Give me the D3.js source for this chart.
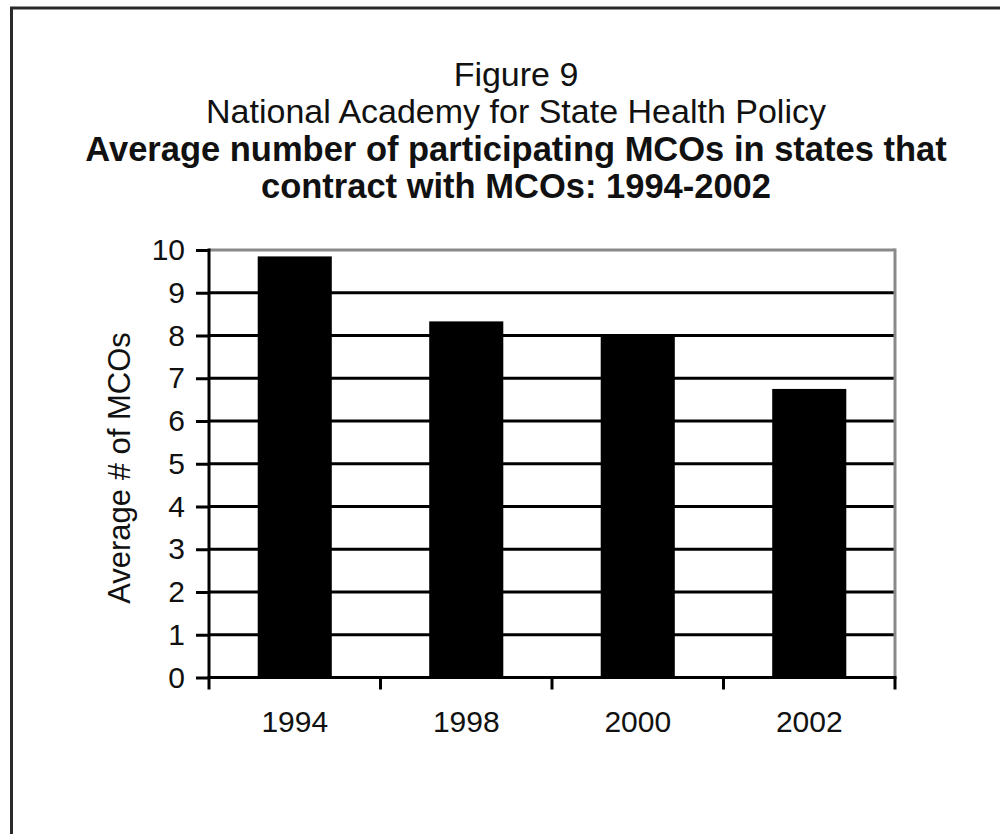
<!DOCTYPE html>
<html>
<head>
<meta charset="utf-8">
<script src="https://cdn.jsdelivr.net/npm/d3@7"></script>
<style>
  body { margin: 0; background: #fff; }
  svg { display: block; font-family: "Liberation Sans", Arial, sans-serif; }
</style>
</head>
<body>
<div id="chart"></div>
<script>
// chart data
const years = ["1994", "1998", "2000", "2002"];
const avgMCOs = [9.85, 8.33, 8.0, 6.75];
const yTicks = [0, 1, 2, 3, 4, 5, 6, 7, 8, 9, 10];
const titleLines = ["Figure 9", "National Academy for State Health Policy"];
const boldTitleLines = ["Average number of participating MCOs in states that", "contract with MCOs: 1994-2002"];
const yLabel = "Average # of MCOs";

const width = 1000, height = 834;
const plot = { left: 209, right: 895, top: 250, bottom: 677.5 };

const svg = d3.select("#chart").append("svg")
    .attr("width", width)
    .attr("height", height);

// outer frame (runs off the right and bottom edges)
svg.append("rect")
    .attr("x", 11.5).attr("y", 8)
    .attr("width", 1010).attr("height", 850)
    .attr("fill", "none")
    .attr("stroke", "#2a2a2a")
    .attr("stroke-width", 3);

// titles
const cx = 516;
svg.selectAll(".title")
    .data(titleLines)
    .join("text")
    .attr("class", "title")
    .attr("x", cx)
    .attr("y", (d, i) => 86 + i * 37)
    .attr("text-anchor", "middle")
    .style("font-size", "34px")
    .style("fill", "#111")
    .text(d => d);

svg.selectAll(".btitle")
    .data(boldTitleLines)
    .join("text")
    .attr("class", "btitle")
    .attr("x", cx)
    .attr("y", (d, i) => 161 + i * 37)
    .attr("text-anchor", "middle")
    .style("font-size", "34.5px")
    .style("font-weight", "bold")
    .style("fill", "#111")
    .text(d => d);

// scales
const x = d3.scaleBand()
    .domain(years)
    .range([plot.left, plot.right])
    .paddingInner(0.568)
    .paddingOuter(0.284);

const y = d3.scaleLinear()
    .domain([0, 10])
    .range([plot.bottom, plot.top]);

// gridlines (top one is the grey plot border)
svg.append("g")
    .selectAll("line")
    .data(yTicks.filter(t => t > 0))
    .join("line")
    .attr("x1", plot.left)
    .attr("x2", plot.right)
    .attr("y1", d => y(d))
    .attr("y2", d => y(d))
    .attr("stroke", d => d === 10 ? "#8a8a8a" : "#000")
    .attr("stroke-width", 3);

// right plot border
svg.append("line")
    .attr("x1", plot.right).attr("x2", plot.right)
    .attr("y1", y(10) - 1.5).attr("y2", y(0))
    .attr("stroke", "#8a8a8a")
    .attr("stroke-width", 3);

// bars
svg.append("g")
    .selectAll("rect")
    .data(years.map((yr, i) => ({ yr, v: avgMCOs[i] })))
    .join("rect")
    .attr("x", d => x(d.yr))
    .attr("y", d => y(d.v))
    .attr("width", x.bandwidth())
    .attr("height", d => y(0) - y(d.v))
    .attr("fill", "#000");

// y axis
const yAxis = svg.append("g")
    .attr("transform", `translate(${plot.left},0)`)
    .call(d3.axisLeft(y).tickValues(yTicks).tickFormat(d3.format("d")).tickSize(13).tickPadding(11));
yAxis.select(".domain").attr("stroke", "#000").attr("stroke-width", 3)
    .attr("d", `M0,${y(10) - 1.5}V${y(0) + 1.5}`);
yAxis.selectAll(".tick line").attr("stroke", "#000").attr("stroke-width", 3);
yAxis.selectAll(".tick text")
    .style("font-size", "30px")
    .style("font-family", "'Liberation Sans', Arial, sans-serif")
    .attr("fill", "#111");

// x axis: ticks sit on category boundaries
const xAxis = svg.append("g")
    .attr("transform", `translate(0,${plot.bottom})`)
    .call(d3.axisBottom(x).tickSize(0).tickPadding(33));
xAxis.select(".domain").attr("stroke", "#000").attr("stroke-width", 3)
    .attr("d", `M${plot.left - 1.5},0H${plot.right + 1.5}`);
xAxis.selectAll(".tick text")
    .style("font-size", "30px")
    .style("font-family", "'Liberation Sans', Arial, sans-serif")
    .attr("fill", "#111");

const bounds = years.map(yr => x(yr) - x.step() * x.paddingInner() / 2).concat([plot.right]);
xAxis.append("g")
    .selectAll("line")
    .data(bounds)
    .join("line")
    .attr("x1", d => d).attr("x2", d => d)
    .attr("y1", 0).attr("y2", 12)
    .attr("stroke", "#000")
    .attr("stroke-width", 3);

// y axis title
svg.append("text")
    .attr("transform", `translate(130,468) rotate(-90)`)
    .attr("text-anchor", "middle")
    .style("font-size", "31px")
    .style("fill", "#111")
    .text(yLabel);
</script>
</body>
</html>
